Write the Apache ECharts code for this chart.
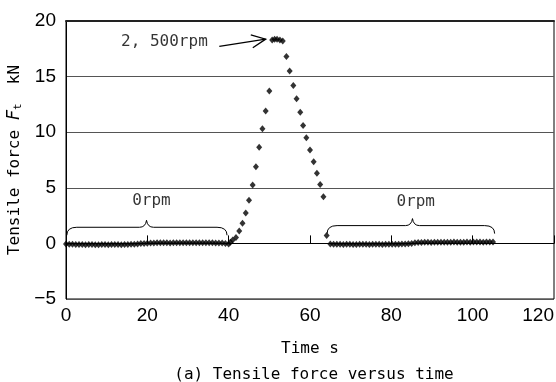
<!DOCTYPE html>
<html><head><meta charset="utf-8">
<script src="https://cdn.jsdelivr.net/npm/echarts@6/dist/echarts.min.js"></script>
<style>html,body{margin:0;padding:0;background:#fff}#c{width:556px;height:382px}</style>
</head><body><div id="c"></div>
<script>
// ---- data ----
const seg1Time = [0.0,0.8,1.6,2.4,3.2,4.0,4.8,5.6,6.4,7.2,8.0,8.8,9.6,10.4,11.2,12.0,12.8,13.6,14.4,15.2,16.0,16.8,17.6,18.4,19.2,20.0,20.8,21.6,22.4,23.2,24.0,24.8,25.6,26.4,27.2,28.0,28.8,29.6,30.4,31.2,32.0,32.8,33.6,34.4,35.2,36.0,36.8,37.6,38.4,39.2,40.0];
const seg1Force = [-0.05,-0.08,-0.08,-0.1,-0.1,-0.1,-0.12,-0.1,-0.1,-0.12,-0.12,-0.1,-0.1,-0.12,-0.1,-0.1,-0.1,-0.12,-0.1,-0.1,-0.08,-0.08,-0.05,-0.02,0.0,0.02,0.03,0.03,0.05,0.05,0.05,0.05,0.03,0.05,0.05,0.05,0.05,0.05,0.05,0.05,0.05,0.05,0.05,0.05,0.05,0.05,0.03,0.03,0.03,0.0,-0.05];
const peakTime = [40.4,41.0,41.8,42.6,43.4,44.2,45.0,45.9,46.7,47.5,48.3,49.1,50.0,50.7,51.3,51.9,52.6,53.3,54.2,55.0,55.9,56.7,57.6,58.3,59.1,60.0,60.9,61.7,62.5,63.3,64.1];
const peakForce = [0.1,0.3,0.52,1.12,1.81,2.74,3.88,5.26,6.9,8.64,10.3,11.9,13.7,18.3,18.35,18.35,18.3,18.2,16.8,15.5,14.2,13.0,11.8,10.6,9.5,8.4,7.35,6.3,5.3,4.2,0.7];
const seg2Time = [65.0,65.8,66.6,67.4,68.2,69.0,69.8,70.6,71.4,72.2,73.0,73.8,74.6,75.4,76.2,77.0,77.8,78.6,79.4,80.2,81.0,81.8,82.6,83.4,84.2,85.0,85.8,86.6,87.4,88.2,89.0,89.8,90.6,91.4,92.2,93.0,93.8,94.6,95.4,96.2,97.0,97.8,98.6,99.4,100.2,101.0,101.8,102.6,103.4,104.2,105.0];
const seg2Force = [-0.05,-0.08,-0.08,-0.08,-0.1,-0.08,-0.08,-0.1,-0.1,-0.08,-0.08,-0.08,-0.1,-0.08,-0.08,-0.08,-0.1,-0.08,-0.08,-0.08,-0.08,-0.08,-0.05,-0.05,-0.03,0.0,0.05,0.08,0.08,0.1,0.1,0.08,0.1,0.1,0.1,0.1,0.1,0.1,0.12,0.1,0.1,0.1,0.12,0.1,0.12,0.12,0.12,0.1,0.12,0.12,0.12];

const xMin = 0, xMax = 120, xStep = 20;
const yMin = -5, yMax = 20, yStep = 5;

// annotations (data coordinates)
const braces = [[0.2, 39.6, 19.8, 1.45], [64.2, 105.4, 85.2, 1.6]];
const rpmText = [['0rpm', 21, 3.85], ['0rpm', 86, 3.75], ['2, 500rpm', 24.2, 18.15]];
const arrowLine = [[37.7, 17.72, 49.1, 18.37]];

const zip = (a, b) => a.map((v, i) => [v, b[i]]);
const allPoints = zip(seg1Time, seg1Force).concat(zip(peakTime, peakForce), zip(seg2Time, seg2Force));

const MONO = '"DejaVu Sans Mono", "Liberation Mono", monospace';
const NUM = '"Liberation Sans", Arial, sans-serif';

const chart = echarts.init(document.getElementById('c'), null, {renderer: 'canvas'});
chart.setOption({
  backgroundColor: '#fff',
  animation: false,
  title: {
    text: '(a) Tensile force versus time',
    left: 309, top: 362, textAlign: 'center',
    textStyle: {fontFamily: MONO, fontSize: 16, fontWeight: 'normal', color: '#000'}
  },
  grid: {left: 66, right: 2, top: 21, bottom: 83, show: true, borderColor: '#000', borderWidth: 1,
    containLabel: false, outerBoundsMode: 'none'},
  xAxis: [{
    type: 'value', min: xMin, max: xMax, interval: xStep,
    axisLine: {lineStyle: {color: '#000', width: 1}},
    axisTick: {inside: true, length: 8, lineStyle: {color: '#000'}},
    splitLine: {show: false},
    axisLabel: {fontFamily: NUM, fontSize: 19, color: '#000', margin: 7, alignMaxLabel: 'right'},
    name: 'Time s', nameLocation: 'middle', nameGap: 42,
    nameTextStyle: {fontFamily: MONO, fontSize: 16, color: '#000'}
  }, {
    type: 'value', position: 'top', min: xMin, max: xMax, interval: xStep,
    axisLine: {lineStyle: {color: '#222', width: 2}},
    axisTick: {show: false}, axisLabel: {show: false}, splitLine: {show: false}
  }],
  yAxis: {
    type: 'value', min: yMin, max: yMax, interval: yStep,
    axisLine: {lineStyle: {color: '#000', width: 1}},
    axisTick: {show: false},
    splitLine: {lineStyle: {color: '#555', width: 1}},
    axisLabel: {fontFamily: NUM, fontSize: 19, color: '#000', margin: 10,
      formatter: v => String(v).replace('-', '\u2212')},
    name: 'Tensile force {it|F}{sub|t}  kN', nameLocation: 'middle', nameGap: 41, nameRotate: 90,
    nameTextStyle: {fontFamily: MONO, fontSize: 16, color: '#000',
      rich: {
        it: {fontFamily: MONO, fontSize: 17, fontStyle: 'italic', color: '#000'},
        sub: {fontFamily: MONO, fontSize: 11, color: '#000', verticalAlign: 'bottom', padding: [6, 0, 0, 0]}
      }}
  },
  series: [
    {
      type: 'scatter', data: allPoints, symbol: 'diamond', symbolSize: [6, 7],
      itemStyle: {color: '#000'}, z: 5
    },
    {
      type: 'scatter', data: rpmText.map(r => ({value: [r[1], r[2]], name: r[0]})),
      symbolSize: 0, silent: true,
      label: {show: true, position: 'inside', formatter: p => p.name,
        fontFamily: MONO, fontSize: 16, color: '#000'}
    },
    {
      type: 'custom', data: braces, silent: true, clip: false,
      renderItem: (params, api) => {
        const p1 = api.coord([api.value(0), api.value(3)]);
        const p2 = api.coord([api.value(1), api.value(3)]);
        const pc = api.coord([api.value(2), api.value(3)]);
        const Y = p1[1], X1 = p1[0], X2 = p2[0], XC = pc[0];
        const st = {stroke: '#000', lineWidth: 1, fill: null};
        return {type: 'group', children: [
          {type: 'bezierCurve', shape: {x1: X1, y1: Y + 8, x2: X1 + 10, y2: Y, cpx1: X1, cpy1: Y}, style: st},
          {type: 'line', shape: {x1: X1 + 10, y1: Y, x2: XC - 7, y2: Y}, style: st},
          {type: 'bezierCurve', shape: {x1: XC - 7, y1: Y, x2: XC, y2: Y - 7, cpx1: XC - 1, cpy1: Y}, style: st},
          {type: 'bezierCurve', shape: {x1: XC, y1: Y - 7, x2: XC + 7, y2: Y, cpx1: XC + 1, cpy1: Y}, style: st},
          {type: 'line', shape: {x1: XC + 7, y1: Y, x2: X2 - 10, y2: Y}, style: st},
          {type: 'bezierCurve', shape: {x1: X2 - 10, y1: Y, x2: X2, y2: Y + 8, cpx1: X2, cpy1: Y}, style: st}
        ]};
      }
    },
    {
      type: 'custom', data: arrowLine, silent: true, clip: false,
      renderItem: (params, api) => {
        const a = api.coord([api.value(0), api.value(1)]);
        const b = api.coord([api.value(2), api.value(3)]);
        const ang = Math.atan2(a[1] - b[1], a[0] - b[0]);
        const L = 15.5, d = 25 * Math.PI / 180;
        const w1 = [b[0] + L * Math.cos(ang + d), b[1] + L * Math.sin(ang + d)];
        const w2 = [b[0] + L * Math.cos(ang - d), b[1] + L * Math.sin(ang - d)];
        const st = {stroke: '#000', lineWidth: 1.3, fill: null};
        return {type: 'group', children: [
          {type: 'line', shape: {x1: a[0], y1: a[1], x2: b[0], y2: b[1]}, style: st},
          {type: 'polyline', shape: {points: [w1, b, w2]}, style: st}
        ]};
      }
    }
  ]
});
</script>
</body></html>
